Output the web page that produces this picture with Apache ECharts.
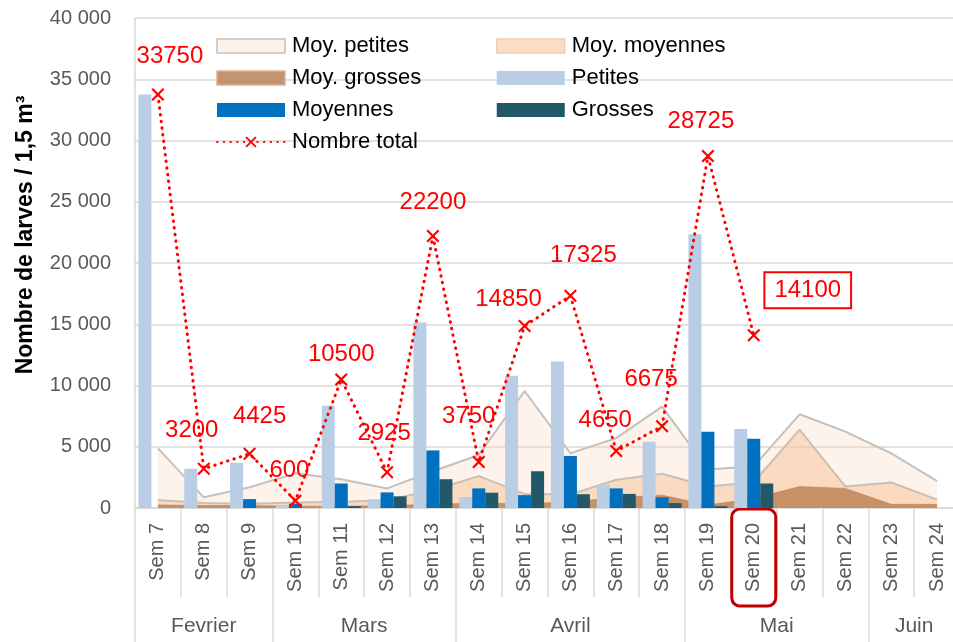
<!DOCTYPE html>
<html>
<head>
<meta charset="utf-8">
<script src="https://cdn.jsdelivr.net/npm/echarts@6/dist/echarts.min.js"></script>
<style>
html,body{margin:0;padding:0;background:#fff;}
#chart{width:953px;height:642px;}
</style>
</head>
<body>
<div id="chart"></div>
<script>
// ---------- DATA ----------
const weeks = ['Sem 7','Sem 8','Sem 9','Sem 10','Sem 11','Sem 12','Sem 13','Sem 14','Sem 15','Sem 16','Sem 17','Sem 18','Sem 19','Sem 20','Sem 21','Sem 22','Sem 23','Sem 24'];
const months = ['Fevrier','Mars','Avril','Mai','Juin'];
const monthWeekCounts = [3, 4, 5, 4, 2];

const moyPetites  = [4870, 870, 1700, 2830, 2350, 1600, 3000, 4330, 9550, 4470, 5700, 8270, 3150, 3400, 7650, 6230, 4460, 2200];
const moyMoyennes = [650, 400, 350, 450, 500, 650, 1450, 2600, 1150, 1100, 2300, 2800, 1750, 2100, 6400, 1750, 2080, 680];
const moyGrosses  = [250, 200, 200, 150, 150, 200, 300, 400, 350, 500, 850, 1050, 250, 780, 1750, 1600, 300, 300];

const petites  = [33750, 3200, 3700, 250, 8350, 700, 15150, 900, 10800, 11950, 1900, 5400, 22350, 6450, null, null, null, null];
const moyennes = [0, 0, 725, 350, 2000, 1275, 4700, 1600, 1050, 4250, 1600, 875, 6225, 5650, null, null, null, null];
const grosses  = [0, 0, 0, 0, 150, 950, 2350, 1250, 3000, 1125, 1150, 400, 150, 2000, null, null, null, null];
const nombreTotal = [33750, 3200, 4425, 600, 10500, 2925, 22200, 3750, 14850, 17325, 4650, 6675, 28725, 14100, null, null, null, null];

const yMin = 0, yMax = 40000, yStep = 5000;
const highlightedWeek = 'Sem 20';
const boxedTotalIndex = 13;

// label placement (style, not data)
const totalLabelOffsets = [[12,-38],[-12,-38],[10,-37],[-6,-30],[0,-25],[-3,-39],[0,-34],[-10,-46],[-16,-27],[13,-40],[-11,-31],[-11,-47],[-7,-35],[54,-45]];

// ---------- BUILD ----------
const FONT = 'Liberation Sans, Arial, sans-serif';
const GREY_TXT = '#595959';
const GRID_COL = '#d9d9d9';

const monthBounds = [0];
monthWeekCounts.forEach(c => monthBounds.push(monthBounds[monthBounds.length-1] + c));
const monthCenters = months.map((m, i) => monthBounds[i] + monthWeekCounts[i] / 2);

const xSymbol = 'path://M0,1.4 L1.4,0 L6,4.6 L10.6,0 L12,1.4 L7.4,6 L12,10.6 L10.6,12 L6,7.4 L1.4,12 L0,10.6 L4.6,6 Z';

function fmtThousands(v) {
  return String(v).replace(/\B(?=(\d{3})+(?!\d))/g, ' ');
}

const totalData = nombreTotal.map((v, i) => {
  if (v == null) return null;
  const item = { value: v, label: { offset: totalLabelOffsets[i] || [0, -30] } };
  if (i === boxedTotalIndex) {
    item.label.borderColor = '#ff0000';
    item.label.borderWidth = 2;
    item.label.padding = [7, 10, 5, 10];
  }
  return item;
});

const chart = echarts.init(document.getElementById('chart'), null, { renderer: 'canvas' });

const legendText = { fontSize: 22, color: '#000', fontFamily: FONT, padding: [0, 0, 0, 2] };

const option = {
  animation: false,
  backgroundColor: '#ffffff',
  textStyle: { fontFamily: FONT },
  grid: { left: 135, top: 18, width: 825, height: 490, containLabel: false, outerBoundsMode: 'none' },
  legend: [
    {
      orient: 'vertical', left: 211, top: 30, itemWidth: 68, itemHeight: 14, itemGap: 10,
      textStyle: legendText,
      data: [
        { name: 'Moy. petites', icon: 'rect', itemStyle: { color: '#fdf3eb', borderColor: '#c9c0b9', borderWidth: 1.5 } },
        { name: 'Moy. grosses', icon: 'rect', itemStyle: { color: '#c4936f', borderColor: '#d8b396', borderWidth: 1.5 } },
        { name: 'Moyennes', icon: 'rect' },
        { name: 'Nombre total' }
      ]
    },
    {
      orient: 'vertical', left: 491, top: 30, itemWidth: 68, itemHeight: 14, itemGap: 10,
      textStyle: legendText,
      data: [
        { name: 'Moy. moyennes', icon: 'rect', itemStyle: { color: '#fbdcc4', borderColor: '#ecd0bb', borderWidth: 1.5 } },
        { name: 'Petites', icon: 'rect' },
        { name: 'Grosses', icon: 'rect' }
      ]
    }
  ],
  xAxis: [
    {
      type: 'category',
      data: weeks,
      position: 'bottom',
      boundaryGap: true,
      axisLine: { lineStyle: { color: GRID_COL, width: 1.5 } },
      axisTick: { show: true, interval: 0, length: 89, lineStyle: { color: GRID_COL, width: 1.5 } },
      axisLabel: {
        interval: 0, rotate: 90, margin: 1,
        color: GREY_TXT, fontSize: 20, fontFamily: FONT,
        formatter: v => (v === highlightedWeek ? '{hl|' + v + '}' : '{n|' + v + '}'),
        rich: {
          n: { fontSize: 20, color: GREY_TXT, fontFamily: FONT, padding: [0, 14, 0, 14] },
          hl: { fontSize: 20, color: GREY_TXT, fontFamily: FONT, padding: [12, 14, 12, 14],
                borderColor: '#c00000', borderWidth: 3, borderRadius: 8 }
        }
      }
    },
    {
      type: 'value',
      position: 'bottom',
      min: 0, max: weeks.length,
      axisLine: { show: false },
      splitLine: { show: false },
      axisTick: { show: true, customValues: monthBounds, length: 134, lineStyle: { color: GRID_COL, width: 1.5 } },
      axisLabel: {
        customValues: monthCenters, margin: 108,
        color: GREY_TXT, fontSize: 21, fontFamily: FONT,
        formatter: v => { const i = monthCenters.indexOf(v); return i >= 0 ? months[i] : ''; }
      }
    }
  ],
  yAxis: {
    type: 'value',
    min: yMin, max: yMax, interval: yStep,
    name: 'Nombre de larves / 1,5 m³',
    nameLocation: 'middle', nameRotate: 90, nameGap: 98,
    nameTextStyle: { fontSize: 23, fontWeight: 'bold', color: '#000', fontFamily: FONT, padding: [0, 0, 0, 56] },
    axisLine: { show: true, lineStyle: { color: GRID_COL, width: 1.5 } },
    axisTick: { show: false },
    axisLabel: { color: GREY_TXT, fontSize: 20, margin: 24, fontFamily: FONT, formatter: v => fmtThousands(v) },
    splitLine: { lineStyle: { color: GRID_COL, width: 1.5 } }
  },
  series: [
    {
      name: 'Moy. petites', type: 'line', data: moyPetites, symbol: 'none', z: 1,
      itemStyle: { color: '#fdf3eb' },
      lineStyle: { color: '#c4c0bc', width: 2 },
      areaStyle: { color: 'rgba(248,215,190,0.3)', opacity: 1 }
    },
    {
      name: 'Moy. moyennes', type: 'line', data: moyMoyennes, symbol: 'none', z: 1,
      itemStyle: { color: '#fbdcc4' },
      lineStyle: { color: '#c9bfb6', width: 2 },
      areaStyle: { color: 'rgba(247,190,145,0.45)', opacity: 1 }
    },
    {
      name: 'Moy. grosses', type: 'line', data: moyGrosses, symbol: 'none', z: 1,
      itemStyle: { color: '#c4936f' },
      lineStyle: { color: 'rgba(190,130,85,0.6)', width: 1 },
      areaStyle: { color: 'rgba(190,130,85,0.85)', opacity: 1 }
    },
    {
      name: 'Petites', type: 'bar', data: petites, barWidth: 13, barGap: '0%', z: 2,
      itemStyle: { color: '#b9cde5' }
    },
    {
      name: 'Moyennes', type: 'bar', data: moyennes, barWidth: 13, barGap: '0%', z: 2,
      itemStyle: { color: '#0070c0' }
    },
    {
      name: 'Grosses', type: 'bar', data: grosses, barWidth: 13, barGap: '0%', z: 2,
      itemStyle: { color: '#215968' }
    },
    {
      name: 'Nombre total', type: 'line', data: totalData, z: 5,
      symbol: xSymbol, symbolSize: 13,
      itemStyle: { color: '#ff0000' },
      lineStyle: { color: '#ff0000', width: 3, type: [0.5, 6.2], cap: 'round' },
      label: {
        show: true, position: 'inside', color: '#ff0000', fontSize: 24, fontFamily: FONT,
        align: 'center', verticalAlign: 'middle'
      }
    }
  ]
};

chart.setOption(option);
</script>
</body>
</html>
